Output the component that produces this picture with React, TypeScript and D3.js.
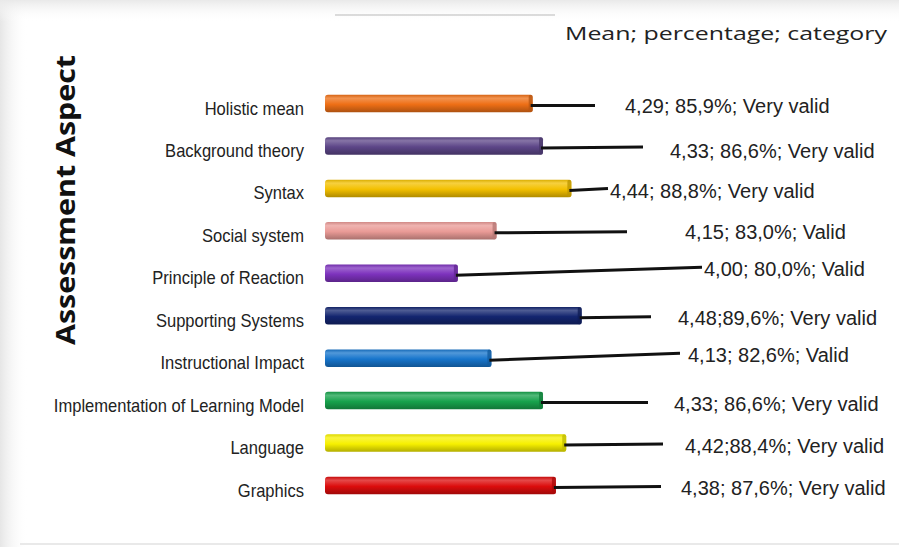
import React from "react";
import * as d3 from "d3";

const categories = [
  "Holistic mean",
  "Background theory",
  "Syntax",
  "Social system",
  "Principle of Reaction",
  "Supporting Systems",
  "Instructional Impact",
  "Implementation of Learning Model",
  "Language",
  "Graphics",
];
const means = [4.29, 4.33, 4.44, 4.15, 4.0, 4.48, 4.13, 4.33, 4.42, 4.38];
const valueLabels = [
  "4,29; 85,9%; Very valid",
  "4,33; 86,6%; Very valid",
  "4,44; 88,8%; Very valid",
  "4,15; 83,0%; Valid",
  "4,00; 80,0%; Valid",
  "4,48;89,6%; Very valid",
  "4,13; 82,6%; Valid",
  "4,33; 86,6%; Very valid",
  "4,42;88,4%; Very valid",
  "4,38; 87,6%; Very valid",
];
const barColors = [
  "#ee6f16",
  "#5d4688",
  "#f3c000",
  "#e99a96",
  "#7d32bd",
  "#13256f",
  "#1775cc",
  "#17a24c",
  "#f7f000",
  "#dc0c0c",
];

// annotation layout (leader line end, label position)
const leaderEndX = [595, 643, 608, 627, 702, 651, 680, 648, 663, 661];
const leaderEndDy = [0, -1, -2, -1, -8, -1, -7, 0, -1, -1];
const labelX = [625, 670, 610, 685, 704, 678, 688, 674, 685, 681];
const labelDy = [9.5, 12, 10, 8.5, 3, 9, 4, 10.5, 10, 9.5];

const W = 899;
const H = 547;

export default function App() {
  const x = d3.scaleLinear().domain([3.485, 4.485]).range([325, 583]);
  const y = d3.scalePoint<string>().domain(categories).range([103.5, 485.5]);
  const barH = 17.5;

  return (
    <svg
      width={W}
      height={H}
      style={{ position: "absolute", left: 0, top: 0 }}
      xmlns="http://www.w3.org/2000/svg"
    >
      <defs>
        {barColors.map((c, i) => {
          const col = d3.color(c)!;
          const light = d3.interpolateRgb(c, "#ffffff")(0.25);
          const dark = col.darker(0.9).formatHex();
          return (
            <linearGradient key={i} id={`g${i}`} x1="0" y1="0" x2="0" y2="1">
              <stop offset="0" stopColor={col.darker(0.3).formatHex()} />
              <stop offset="0.2" stopColor={light} />
              <stop offset="0.55" stopColor={c} />
              <stop offset="1" stopColor={dark} />
            </linearGradient>
          );
        })}
        <linearGradient id="edgeL" x1="0" y1="0" x2="1" y2="0">
          <stop offset="0" stopColor="#e6e6e6" />
          <stop offset="1" stopColor="#ffffff" stopOpacity="0" />
        </linearGradient>
        <linearGradient id="edgeT" x1="0" y1="0" x2="0" y2="1">
          <stop offset="0" stopColor="#e9e9e9" />
          <stop offset="1" stopColor="#ffffff" stopOpacity="0" />
        </linearGradient>
      </defs>
      <rect x={0} y={0} width={W} height={H} fill="#ffffff" />
      <rect x={0} y={0} width={28} height={H} fill="url(#edgeL)" />
      <rect x={0} y={0} width={W} height={22} fill="url(#edgeT)" />
      <line x1={335} x2={555} y1={15} y2={15} stroke="#cfcfcf" strokeWidth={1.5} />
      <line x1={20} x2={W} y1={544} y2={544} stroke="#e2e2e2" strokeWidth={1.5} />

      {/* Title */}
      <text
        x={565}
        y={40}
        fontFamily="'Open Sans', sans-serif"
        fontSize={19}
        fill="#222"
        textLength={322}
        lengthAdjust="spacingAndGlyphs"
      >
        Mean; percentage; category
      </text>

      {/* Y axis title */}
      <text
        transform="translate(75,200) rotate(-90)"
        textAnchor="middle"
        fontFamily="'Open Sans', sans-serif"
        fontWeight="bold"
        fontSize={27}
        fill="#111"
        textLength={290}
        lengthAdjust="spacingAndGlyphs"
      >
        Assessment Aspect
      </text>

      {categories.map((cat, i) => {
        const cy = y(cat)!;
        const xe = x(means[i]);
        const x0 = x.range()[0];
        return (
          <g key={cat}>
            <text
              transform={`translate(304,${cy + 11}) scale(0.92,1)`}
              textAnchor="end"
              fontFamily="'Liberation Sans', Arial, sans-serif"
              fontSize={18}
              fill="#222"
            >
              {cat}
            </text>
            <rect
              x={x0}
              y={cy - barH / 2}
              width={xe - x0}
              height={barH}
              rx={3}
              fill={`url(#g${i})`}
            />
            <rect
              x={xe - 4}
              y={cy - barH / 2}
              width={4}
              height={barH}
              rx={2}
              fill={d3.color(barColors[i])!.darker(0.7).formatHex()}
              opacity={0.8}
            />
            <line
              x1={xe - 2}
              y1={cy + 2}
              x2={leaderEndX[i]}
              y2={cy + 2 + leaderEndDy[i]}
              stroke="#111"
              strokeWidth={3}
            />
            <text
              x={labelX[i]}
              y={cy + labelDy[i]}
              fontFamily="'Liberation Sans', Arial, sans-serif"
              fontSize={20}
              fill="#222"
            >
              {valueLabels[i]}
            </text>
          </g>
        );
      })}
    </svg>
  );
}
